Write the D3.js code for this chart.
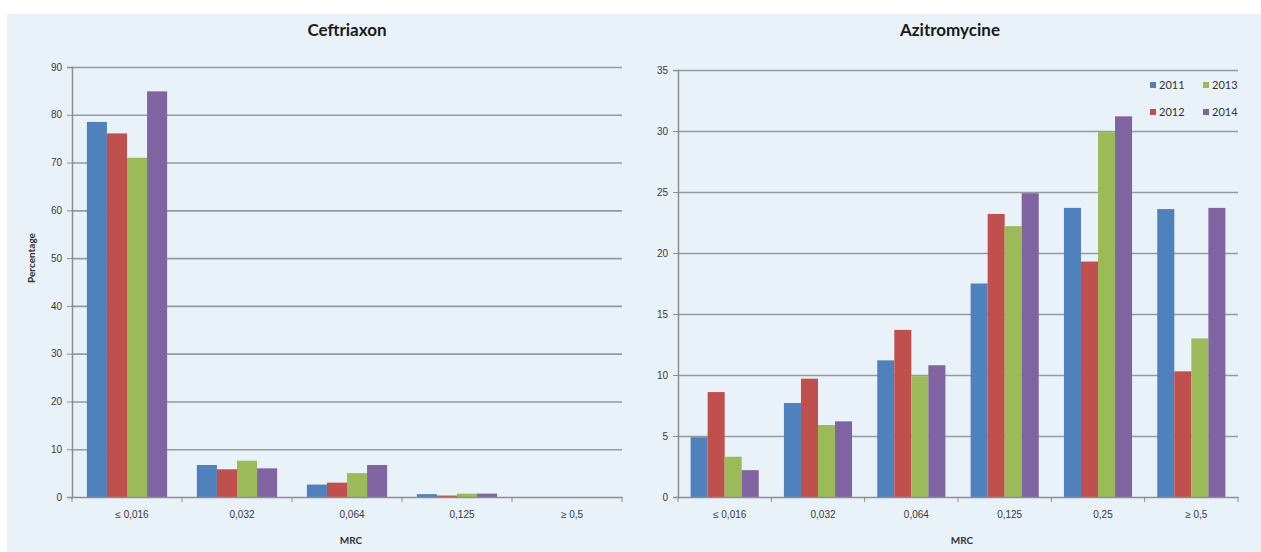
<!DOCTYPE html>
<html>
<head>
<meta charset="utf-8">
<script src="https://cdn.jsdelivr.net/npm/d3@7"></script>
<style>
  html, body { margin: 0; padding: 0; background: #ffffff; }
  svg { display: block; font-family: Lato, "Open Sans", sans-serif; }
  .tick text { fill: #3a3a3a; font-size: 10px; }
</style>
</head>
<body>
<svg id="chart" width="1261" height="552"></svg>
<script>
// data
const years = ['2011', '2012', '2013', '2014'];
const colors = ['#4f81bd', '#c0504d', '#9bbb59', '#8064a2'];

const cefCategories = ['≤ 0,016', '0,032', '0,064', '0,125', '≥ 0,5'];
const cef2011 = [78.5, 6.7, 2.6, 0.6, 0];
const cef2012 = [76.1, 5.8, 3.0, 0.3, 0];
const cef2013 = [71.0, 7.6, 5.0, 0.7, 0];
const cef2014 = [84.9, 6.0, 6.7, 0.7, 0];
const cefTicks = [0, 10, 20, 30, 40, 50, 60, 70, 80, 90];

const aziCategories = ['≤ 0,016', '0,032', '0,064', '0,125', '0,25', '≥ 0,5'];
const azi2011 = [4.9, 7.7, 11.2, 17.5, 23.7, 23.6];
const azi2012 = [8.6, 9.7, 13.7, 23.2, 19.3, 10.3];
const azi2013 = [3.3, 5.9, 9.9, 22.2, 29.9, 13.0];
const azi2014 = [2.2, 6.2, 10.8, 24.9, 31.2, 23.7];
const aziTicks = [0, 5, 10, 15, 20, 25, 30, 35];

const svg = d3.select('#chart');

// light blue panel background
svg.append('rect')
  .attr('x', 7).attr('y', 14)
  .attr('width', 1254).attr('height', 538)
  .attr('fill', '#e8f2f8');

function drawPanel(opts) {
  const { title, categories, series, ticks, x0, x1, yTop, yBottom, titleX, showYLabel } = opts;

  const x = d3.scaleBand()
    .domain(categories)
    .range([x0, x1])
    .paddingInner(opts.pad)
    .paddingOuter(opts.pad / 2);

  const xInner = d3.scaleBand()
    .domain(years)
    .range([0, x.bandwidth()]);

  const y = d3.scaleLinear()
    .domain([0, d3.max(ticks)])
    .range([yBottom, yTop]);

  const g = svg.append('g');

  // gridlines
  g.append('g')
    .attr('transform', `translate(${x0},0)`)
    .call(d3.axisLeft(y).tickValues(ticks.slice(1)).tickSize(-(x1 - x0)).tickFormat(''))
    .call(s => s.select('.domain').remove())
    .call(s => s.selectAll('line').attr('stroke', '#919ca0').attr('stroke-width', 1.6));

  // bars
  const rows = categories.map((c, i) => ({ cat: c, vals: series.map(s => s[i]) }));
  const groups = g.selectAll('.grp')
    .data(rows)
    .join('g')
    .attr('class', 'grp')
    .attr('transform', d => `translate(${x(d.cat)},0)`);

  groups.selectAll('rect')
    .data(d => d.vals.map((v, k) => ({ year: years[k], v, k })))
    .join('rect')
    .attr('x', d => xInner(d.year))
    .attr('width', xInner.bandwidth())
    .attr('y', d => y(d.v))
    .attr('height', d => yBottom - y(d.v))
    .attr('fill', d => colors[d.k]);

  // y axis
  g.append('g')
    .attr('transform', `translate(${x0},0)`)
    .call(d3.axisLeft(y).tickValues(ticks).tickSize(5).tickPadding(5))
    .call(s => s.select('.domain').attr('stroke', '#8a8f92').attr('stroke-width', 1.5))
    .call(s => s.selectAll('.tick line').attr('stroke', '#8a8f92'));

  // x axis: line plus ticks at category boundaries
  g.append('g')
    .attr('transform', `translate(0,${yBottom})`)
    .call(d3.axisBottom(x).tickSize(0).tickPadding(14))
    .call(s => s.select('.domain').attr('stroke', '#8a8f92').attr('stroke-width', 1.5))
    .call(s => s.selectAll('.tick text').attr('dx', 5));

  const bounds = d3.range(categories.length + 1).map(i => x0 + i * x.step());
  g.selectAll('.xtick')
    .data(bounds)
    .join('line')
    .attr('x1', d => d).attr('x2', d => d)
    .attr('y1', yBottom).attr('y2', yBottom + 5)
    .attr('stroke', '#8a8f92');

  // titles
  g.append('text')
    .attr('x', titleX).attr('y', 36)
    .attr('text-anchor', 'middle')
    .attr('font-size', 17).attr('font-weight', 'bold').attr('fill', '#1a1a1a')
    .text(title);

  g.append('text')
    .attr('x', (x0 + x1) / 2 + 4).attr('y', 544)
    .attr('text-anchor', 'middle')
    .attr('font-size', 10).attr('font-weight', 'bold').attr('fill', '#333')
    .text('MRC');

  if (showYLabel) {
    g.append('text')
      .attr('transform', `translate(35,258) rotate(-90)`)
      .attr('text-anchor', 'middle')
      .attr('font-size', 10).attr('font-weight', 'bold').attr('fill', '#333')
      .text('Percentage');
  }
  return g;
}

drawPanel({
  title: 'Ceftriaxon', categories: cefCategories,
  series: [cef2011, cef2012, cef2013, cef2014], ticks: cefTicks,
  x0: 72, x1: 622, yTop: 67, yBottom: 497, pad: 0.27, titleX: 347, showYLabel: true
});

const azi = drawPanel({
  title: 'Azitromycine', categories: aziCategories,
  series: [azi2011, azi2012, azi2013, azi2014], ticks: aziTicks,
  x0: 678, x1: 1238, yTop: 70, yBottom: 497, pad: 0.27, titleX: 950, showYLabel: false
});

// legend, two columns
const legend = azi.append('g').attr('transform', 'translate(1150,86)');
const items = legend.selectAll('g')
  .data(years)
  .join('g')
  .attr('transform', (d, i) => `translate(${Math.floor(i / 2) * 53},${(i % 2) * 27})`);
items.append('rect')
  .attr('x', 0).attr('y', -4).attr('width', 6).attr('height', 6)
  .attr('fill', (d, i) => colors[i]);
items.append('text')
  .attr('x', 9).attr('y', 3)
  .attr('font-size', 11).attr('fill', '#333')
  .text(d => d);
</script>
</body>
</html>
